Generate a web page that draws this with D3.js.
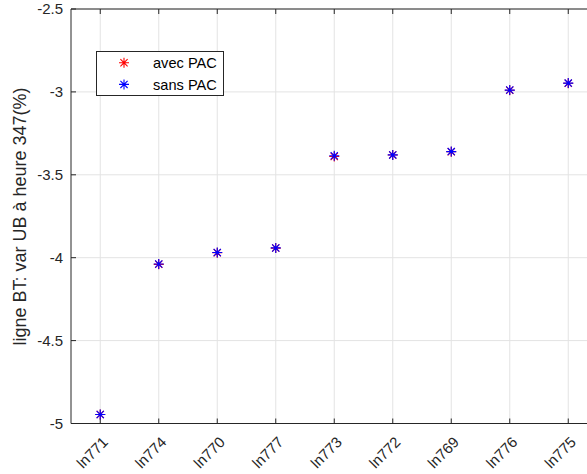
<!DOCTYPE html>
<html><head><meta charset="utf-8">
<script src="https://cdn.jsdelivr.net/npm/d3@7"></script>
<style>body{margin:0;background:#fff;}svg{display:block;}</style>
</head><body>
<script>
const categories = ["ln771","ln774","ln770","ln777","ln773","ln772","ln769","ln776","ln775"];
const avecPAC = [-4.946, -4.040, -3.970, -3.942, -3.390, -3.381, -3.361, -2.990, -2.948];
const sansPAC = [-4.946, -4.038, -3.969, -3.941, -3.385, -3.380, -3.360, -2.989, -2.947];
const yTicks = [-5, -4.5, -4, -3.5, -3, -2.5];
const seriesNames = ["avec PAC", "sans PAC"];
const seriesColors = ["#ff0000", "#0000ff"];

(function(){
const W = 587, H = 474;
const svg = d3.select("body").append("svg").attr("width", W).attr("height", H);
const mLeft = 71, mTop = 9, mBottom = 423.5, mRight = 597.5;
const x = d3.scaleLinear().domain([0.5, 9.5]).range([mLeft, mRight]);
const y = d3.scaleLinear().domain([-5, -2.5]).range([mBottom, mTop]);
const font = "'Liberation Sans', Arial, Helvetica, sans-serif";
const axisColor = "#262626";

// grid
svg.append("g").selectAll("line").data(categories).join("line")
  .attr("x1", (d,i)=>x(i+1)).attr("x2", (d,i)=>x(i+1))
  .attr("y1", mTop).attr("y2", mBottom).attr("stroke", "#e3e3e3").attr("stroke-width", 1);
svg.append("g").selectAll("line").data(yTicks).join("line")
  .attr("x1", mLeft).attr("x2", mRight).attr("y1", d=>y(d)).attr("y2", d=>y(d))
  .attr("stroke", "#e3e3e3").attr("stroke-width", 1);

// axes box
svg.append("line").attr("x1", mLeft).attr("x2", mLeft).attr("y1", mTop).attr("y2", mBottom).attr("stroke", axisColor);
svg.append("line").attr("x1", mLeft).attr("x2", mRight).attr("y1", mBottom).attr("y2", mBottom).attr("stroke", axisColor);
svg.append("line").attr("x1", mLeft).attr("x2", mRight).attr("y1", mTop).attr("y2", mTop).attr("stroke", axisColor);
svg.append("line").attr("x1", mRight).attr("x2", mRight).attr("y1", mTop).attr("y2", mBottom).attr("stroke", axisColor);

// ticks (inward)
const tl = 5;
categories.forEach((c,i)=>{
  const xx = x(i+1);
  svg.append("line").attr("x1", xx).attr("x2", xx).attr("y1", mBottom).attr("y2", mBottom-tl).attr("stroke", axisColor);
  svg.append("line").attr("x1", xx).attr("x2", xx).attr("y1", mTop).attr("y2", mTop+tl).attr("stroke", axisColor);
  svg.append("text").attr("transform", `translate(${xx+5},${mBottom+16}) rotate(-45)`)
    .attr("text-anchor", "end").attr("dy", "0.35em")
    .attr("font-family", font).attr("font-size", 15).attr("fill", axisColor).text(c);
});
yTicks.forEach(t=>{
  svg.append("line").attr("x1", mLeft).attr("x2", mLeft+tl).attr("y1", y(t)).attr("y2", y(t)).attr("stroke", axisColor);
  svg.append("text").attr("x", mLeft-8).attr("y", y(t)).attr("dy", "0.35em").attr("text-anchor", "end")
    .attr("font-family", font).attr("font-size", 15).attr("fill", axisColor).text(t);
});

// y label
svg.append("text").attr("transform", `translate(26,216.5) rotate(-90)`)
  .attr("text-anchor", "middle").attr("font-family", font).attr("font-size", 18).attr("fill", axisColor)
  .text("ligne BT: var UB à heure 347(%)");

function star(g, cx, cy, color){
  const r = 5, d = r*0.72;
  g.append("path").attr("d",
    `M${cx-r},${cy}L${cx+r},${cy}M${cx},${cy-r}L${cx},${cy+r}M${cx-d},${cy-d}L${cx+d},${cy+d}M${cx-d},${cy+d}L${cx+d},${cy-d}`)
    .attr("stroke", color).attr("stroke-width", 1.1).attr("fill", "none");
}
const gp = svg.append("g");
[avecPAC, sansPAC].forEach((s,k)=>{
  s.forEach((v,i)=> star(gp, x(i+1), y(v), seriesColors[k]));
});

// legend
const lg = svg.append("g");
lg.append("rect").attr("x", 96.5).attr("y", 51.5).attr("width", 127).attr("height", 44)
  .attr("fill", "#fff").attr("stroke", axisColor).attr("stroke-width", 1);
seriesNames.forEach((n,k)=>{
  const yy = 62.7 + k*21.7;
  star(lg, 124, yy, seriesColors[k]);
  lg.append("text").attr("x", 153).attr("y", yy).attr("dy", "0.35em")
    .attr("font-family", font).attr("font-size", 14.6).attr("fill", "#000").text(n);
});
})();
</script>
</body></html>
